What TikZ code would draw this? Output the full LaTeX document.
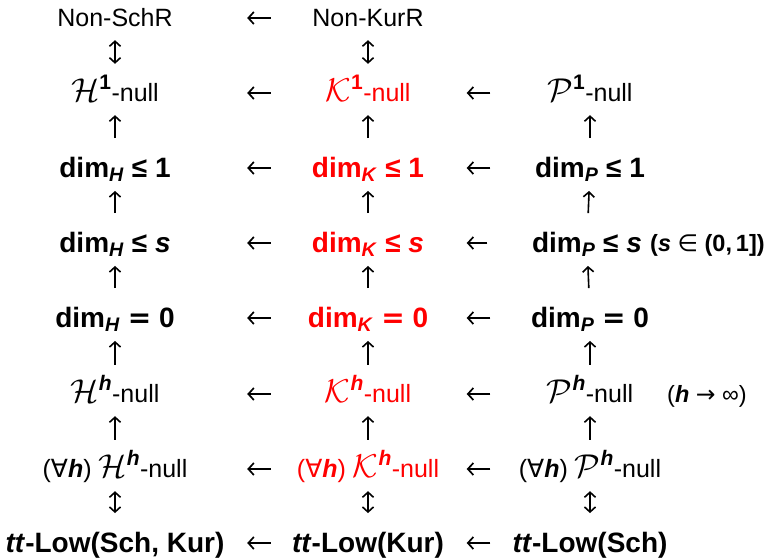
\RequirePackage{fix-cm}
\documentclass[tikz,border=0pt]{standalone}
\usepackage{amsmath}
\usepackage{fontspec}
\setmainfont{Liberation Sans}
\newfontfamily\dvs{DejaVu Sans}
\usetikzlibrary{arrows.meta}
\definecolor{kred}{RGB}{255,0,0}
\newcommand{\bi}[1]{\textbf{\textit{#1}}}
\newcommand{\calx}[2]{{\fontsize{33}{36}\selectfont$\mathcal{#1}^{\text{\fontsize{21}{23}\selectfont #2}}$}}
\newcommand{\dimsub}[1]{dim$_{\text{\bi{#1}}}$}
\begin{document}
\begin{tikzpicture}[x=1pt,y=1pt,
  every node/.style={font=\fontsize{25}{29}\selectfont, inner sep=0pt, text height=17pt, text depth=0pt},
  bnode/.style={font=\fontsize{28}{32}\selectfont\bfseries, text height=18.5pt, text depth=-1.5pt},
  cA/.style={minimum width=248pt},
  cB/.style={minimum width=178pt},
  cC/.style={minimum width=180pt},
  hl/.style={text=kred},
  note/.style={font=\fontsize{23.5}{27}\selectfont, anchor=west},
  harr/.style={line width=1.7pt, -{Straight Barb[length=5.5pt,width=12pt]}, shorten <=8pt, shorten >=8pt},
  harrb/.style={line width=1.7pt, -{Straight Barb[length=5.5pt,width=12pt]}, shorten <=9.5pt, shorten >=9.5pt},
  varr/.style={line width=1.6pt, -{Straight Barb[length=5pt,width=11pt]}, shorten <=20.5pt, shorten >=13.5pt},
  vdarr/.style={line width=1.6pt, {Straight Barb[length=5pt,width=11pt]}-{Straight Barb[length=5pt,width=11pt]}, shorten <=20.5pt, shorten >=13.5pt}
]
\useasboundingbox (0,0) rectangle (770,-559);
% row 1
\node[cA] (r1a) at (115,-18) {Non-SchR};
\node[cB] (r1b) at (368,-18) {Non-KurR};
% row 2
\node[cA] (r2a) at (115,-93) {\calx{H}{\textbf{1}}-null};
\node[cB,hl] (r2b) at (368,-93) {\calx{K}{\textbf{1}}-null};
\node[cC] (r2c) at (590,-93) {\calx{P}{\textbf{1}}-null};
% row 3
\node[cA,bnode] (r3a) at (115,-168) {\dimsub{H} ≤ 1};
\node[cB,bnode,hl] (r3b) at (368,-168) {\dimsub{K} ≤ 1};
\node[cC,bnode] (r3c) at (590,-168) {\dimsub{P} ≤ 1};
% row 4
\node[cA,bnode] (r4a) at (115,-243) {\dimsub{H} ≤ \textit{s}};
\node[cB,bnode,hl] (r4b) at (368,-243) {\dimsub{K} ≤ \textit{s}};
\node[cC,bnode] (r4c) at (587,-243) {\dimsub{P} ≤ \textit{s}};
\node[note] (n4) at (650,-243) {\textbf{(\textit{s} {\dvs\mdseries ∈} (0,\,1])}};
% row 5
\node[cA,bnode] (r5a) at (115,-318) {\dimsub{H} {\dvs =} 0};
\node[cB,bnode,hl] (r5b) at (368,-318) {\dimsub{K} {\dvs =} 0};
\node[cC,bnode] (r5c) at (590,-318) {\dimsub{P} {\dvs =} 0};
% row 6
\node[cA] (r6a) at (115,-394) {\calx{H}{\bi{h}}-null};
\node[cB,hl] (r6b) at (368,-394) {\calx{K}{\bi{h}}-null};
\node[cC] (r6c) at (590,-394) {\calx{P}{\bi{h}}-null};
\node[note] (n6) at (667,-394) {(\bi{h} {\dvs →} ∞)};
% row 7
\node[cA] (r7a) at (115,-469) {({\dvs ∀}\bi{h}) \calx{H}{\bi{h}}-null};
\node[cB,hl] (r7b) at (368,-469) {({\dvs ∀}\bi{h}) \calx{K}{\bi{h}}-null};
\node[cC] (r7c) at (590,-469) {({\dvs ∀}\bi{h}) \calx{P}{\bi{h}}-null};
% row 8
\node[cA,bnode] (r8a) at (115,-543) {\textit{tt}-Low(Sch, Kur)};
\node[cB,bnode] (r8b) at (368,-543) {\textit{tt}-Low(Kur)};
\node[cC,bnode] (r8c) at (590,-543) {\textit{tt}-Low(Sch)};
% horizontal arrows
\draw[harr] (r1b) -- (r1a);
\foreach \r in {2,...,8}{
  \draw[harr] (r\r b) -- (r\r a);
  \draw[harrb] (r\r c) -- (r\r b);
}
% vertical arrows
\draw[vdarr] (r2a) -- (r1a);
\draw[vdarr] (r2b) -- (r1b);
\foreach \r/\s in {3/2,4/3,5/4,6/5,7/6}{
  \draw[varr] (r\r a) -- (r\s a);
  \draw[varr] (r\r b) -- (r\s b);
  \draw[varr] (r\r c) -- (r\s c);
}
\draw[vdarr] (r8a) -- (r7a);
\draw[vdarr] (r8b) -- (r7b);
\draw[vdarr] (r8c) -- (r7c);
\end{tikzpicture}
\end{document}
